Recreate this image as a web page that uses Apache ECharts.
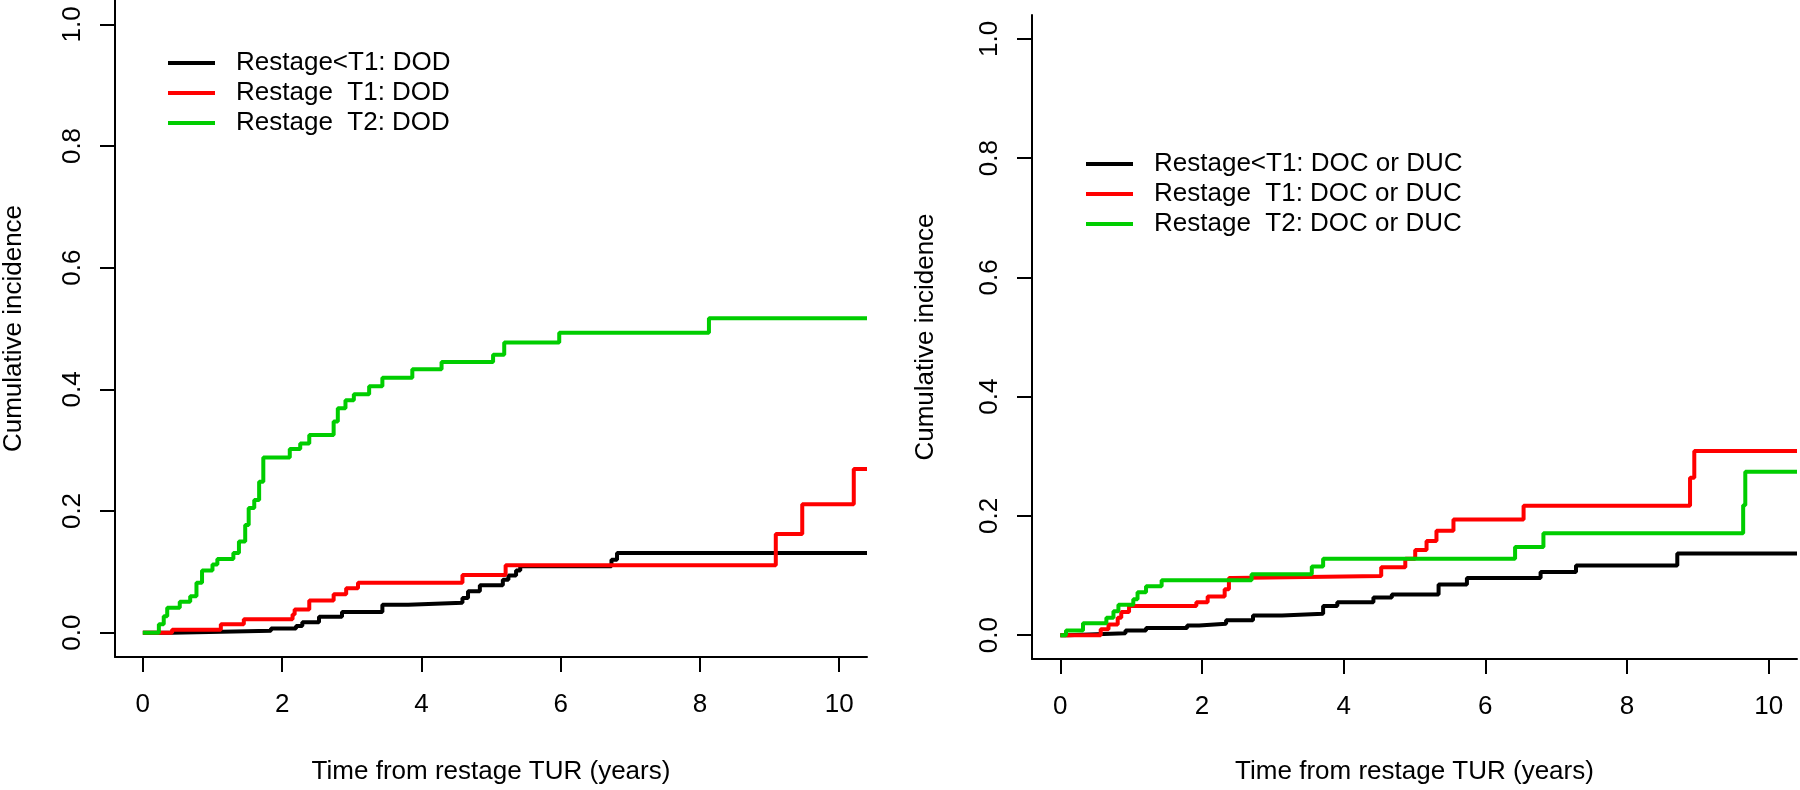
<!DOCTYPE html>
<html>
<head>
<meta charset="utf-8">
<script src="https://cdn.jsdelivr.net/npm/echarts@6/dist/echarts.min.js"></script>
<style>
html,body{margin:0;padding:0;background:#fff;}
#chart{width:1800px;height:790px;}
</style>
</head>
<body>
<div id="chart"></div>
<script>
// ---- tick labels ----
const xTicks = [0, 2, 4, 6, 8, 10];
const yTicks = [0, 0.2, 0.4, 0.6, 0.8, 1.0];
const xTitle = 'Time from restage TUR (years)';
const yTitle = 'Cumulative incidence';

// ---- left panel: DOD ----
const dodNames = ['Restage<T1: DOD', 'Restage  T1: DOD', 'Restage  T2: DOD'];
const dodLt1T = [0, 0.42, 1.84, 2.20, 2.29, 2.53, 2.86, 3.44, 3.81, 4.59, 4.67, 4.84, 5.17, 5.25, 5.36, 5.42, 6.73, 6.81, 10.4];
const dodLt1V = [0, 0.003, 0.007, 0.011, 0.017, 0.026, 0.034, 0.046, 0.049, 0.057, 0.068, 0.078, 0.087, 0.094, 0.102, 0.109, 0.120, 0.131, 0.131];
const dodT1T = [0, 0.42, 1.12, 1.45, 2.15, 2.18, 2.39, 2.74, 2.92, 3.09, 4.59, 5.21, 9.09, 9.47, 10.21, 10.4];
const dodT1V = [0, 0.005, 0.014, 0.022, 0.030, 0.038, 0.053, 0.063, 0.073, 0.082, 0.095, 0.111, 0.162, 0.211, 0.269, 0.269];
const dodT2T = [0, 0.23, 0.30, 0.35, 0.53, 0.68, 0.77, 0.85, 1.00, 1.07, 1.30, 1.38, 1.47, 1.52, 1.60, 1.67, 1.73, 2.11, 2.26, 2.39, 2.74, 2.80, 2.91, 3.03, 3.25, 3.44, 3.87, 4.29, 5.03, 5.19, 5.98, 8.13, 10.4];
const dodT2V = [0, 0.014, 0.027, 0.041, 0.051, 0.060, 0.082, 0.102, 0.112, 0.121, 0.131, 0.150, 0.177, 0.205, 0.218, 0.248, 0.288, 0.302, 0.311, 0.325, 0.347, 0.369, 0.382, 0.392, 0.405, 0.419, 0.433, 0.445, 0.457, 0.477, 0.493, 0.517, 0.517];

// ---- right panel: DOC or DUC ----
const docNames = ['Restage<T1: DOC or DUC', 'Restage  T1: DOC or DUC', 'Restage  T2: DOC or DUC'];
const docLt1T = [0, 0.10, 0.92, 1.21, 1.79, 1.96, 2.34, 2.72, 3.13, 3.71, 3.91, 4.42, 4.68, 5.34, 5.74, 6.78, 7.28, 8.71, 10.4];
const docLt1V = [0, 0.003, 0.008, 0.012, 0.016, 0.019, 0.025, 0.033, 0.036, 0.049, 0.055, 0.063, 0.068, 0.085, 0.096, 0.106, 0.117, 0.137, 0.137];
const docT1T = [0, 0.57, 0.68, 0.81, 0.86, 0.97, 1.92, 2.08, 2.32, 2.38, 2.43, 4.53, 4.87, 5.01, 5.17, 5.31, 5.55, 6.54, 8.89, 8.95, 10.4];
const docT1V = [0, 0.010, 0.018, 0.029, 0.039, 0.049, 0.055, 0.065, 0.077, 0.096, 0.099, 0.114, 0.128, 0.143, 0.158, 0.175, 0.194, 0.217, 0.264, 0.309, 0.309];
const docT2T = [0, 0.08, 0.32, 0.65, 0.75, 0.82, 1.03, 1.09, 1.21, 1.43, 2.70, 3.55, 3.71, 6.42, 6.82, 9.64, 9.67, 10.4];
const docT2V = [0, 0.008, 0.020, 0.029, 0.040, 0.051, 0.060, 0.072, 0.082, 0.092, 0.102, 0.115, 0.128, 0.148, 0.171, 0.218, 0.274, 0.274];

const colors = ['#000000', '#ff0000', '#00cd00'];

const FONT = '"Liberation Sans", Arial, sans-serif';
function zip(t, v) { return t.map((x, i) => [x, v[i]]); }

function xAxisCfg(gi, gap) {
  return {
    type: 'value', gridIndex: gi, min: -0.4, max: 10.4,
    name: xTitle, nameLocation: 'middle', nameGap: gap,
    nameTextStyle: { fontSize: 26, color: '#000', fontFamily: FONT },
    axisLine: { show: true, onZero: false, lineStyle: { color: '#000', width: 2 } },
    axisTick: { show: true, length: 15, customValues: xTicks, lineStyle: { color: '#000', width: 2 } },
    axisLabel: { customValues: xTicks, margin: 35, fontSize: 26, color: '#000', fontFamily: FONT,
                 formatter: v => String(v) },
    splitLine: { show: false }
  };
}
function yAxisCfg(gi, gap) {
  return {
    type: 'value', gridIndex: gi, min: -0.04, max: 1.04,
    name: yTitle, nameLocation: 'middle', nameGap: gap, nameRotate: 90,
    nameTextStyle: { fontSize: 26, color: '#000', fontFamily: FONT },
    axisLine: { show: true, onZero: false, lineStyle: { color: '#000', width: 2 } },
    axisTick: { show: true, length: 15, customValues: yTicks, lineStyle: { color: '#000', width: 2 } },
    axisLabel: { customValues: yTicks, rotate: 90, margin: 29, fontSize: 26, color: '#000', fontFamily: FONT,
                 formatter: v => v.toFixed(1) },
    splitLine: { show: false }
  };
}
function lineSeries(name, data, idx, color) {
  return {
    name: name, type: 'line', step: 'end', data: data,
    xAxisIndex: idx, yAxisIndex: idx, symbol: 'none', showSymbol: false,
    color: color, lineStyle: { color: color, width: 4 },
    clip: true, silent: true
  };
}
function legendCfg(names, left, top) {
  return {
    data: names, orient: 'vertical', left: left, top: top,
    icon: 'rect', itemWidth: 47, itemHeight: 4, itemGap: 0,
    selectedMode: false,
    textStyle: { fontSize: 26, lineHeight: 30, color: '#000', fontFamily: FONT, padding: [0, 0, 0, 16] }
  };
}

const chart = echarts.init(document.getElementById('chart'), null, { renderer: 'canvas' });
chart.setOption({
  animation: false,
  backgroundColor: '#ffffff',
  grid: [
    { left: 115, right: 933, top: 0, bottom: 130 },
    { left: 1032, right: 3, top: 15, bottom: 126 }
  ],
  xAxis: [xAxisCfg(0, 102), xAxisCfg(1, 100)],
  yAxis: [yAxisCfg(0, 88), yAxisCfg(1, 93)],
  legend: [legendCfg(dodNames, 163, 43), legendCfg(docNames, 1081, 144)],
  series: [
    lineSeries(dodNames[0], zip(dodLt1T, dodLt1V), 0, colors[0]),
    lineSeries(dodNames[1], zip(dodT1T, dodT1V), 0, colors[1]),
    lineSeries(dodNames[2], zip(dodT2T, dodT2V), 0, colors[2]),
    lineSeries(docNames[0], zip(docLt1T, docLt1V), 1, colors[0]),
    lineSeries(docNames[1], zip(docT1T, docT1V), 1, colors[1]),
    lineSeries(docNames[2], zip(docT2T, docT2V), 1, colors[2])
  ]
});
</script>
</body>
</html>
